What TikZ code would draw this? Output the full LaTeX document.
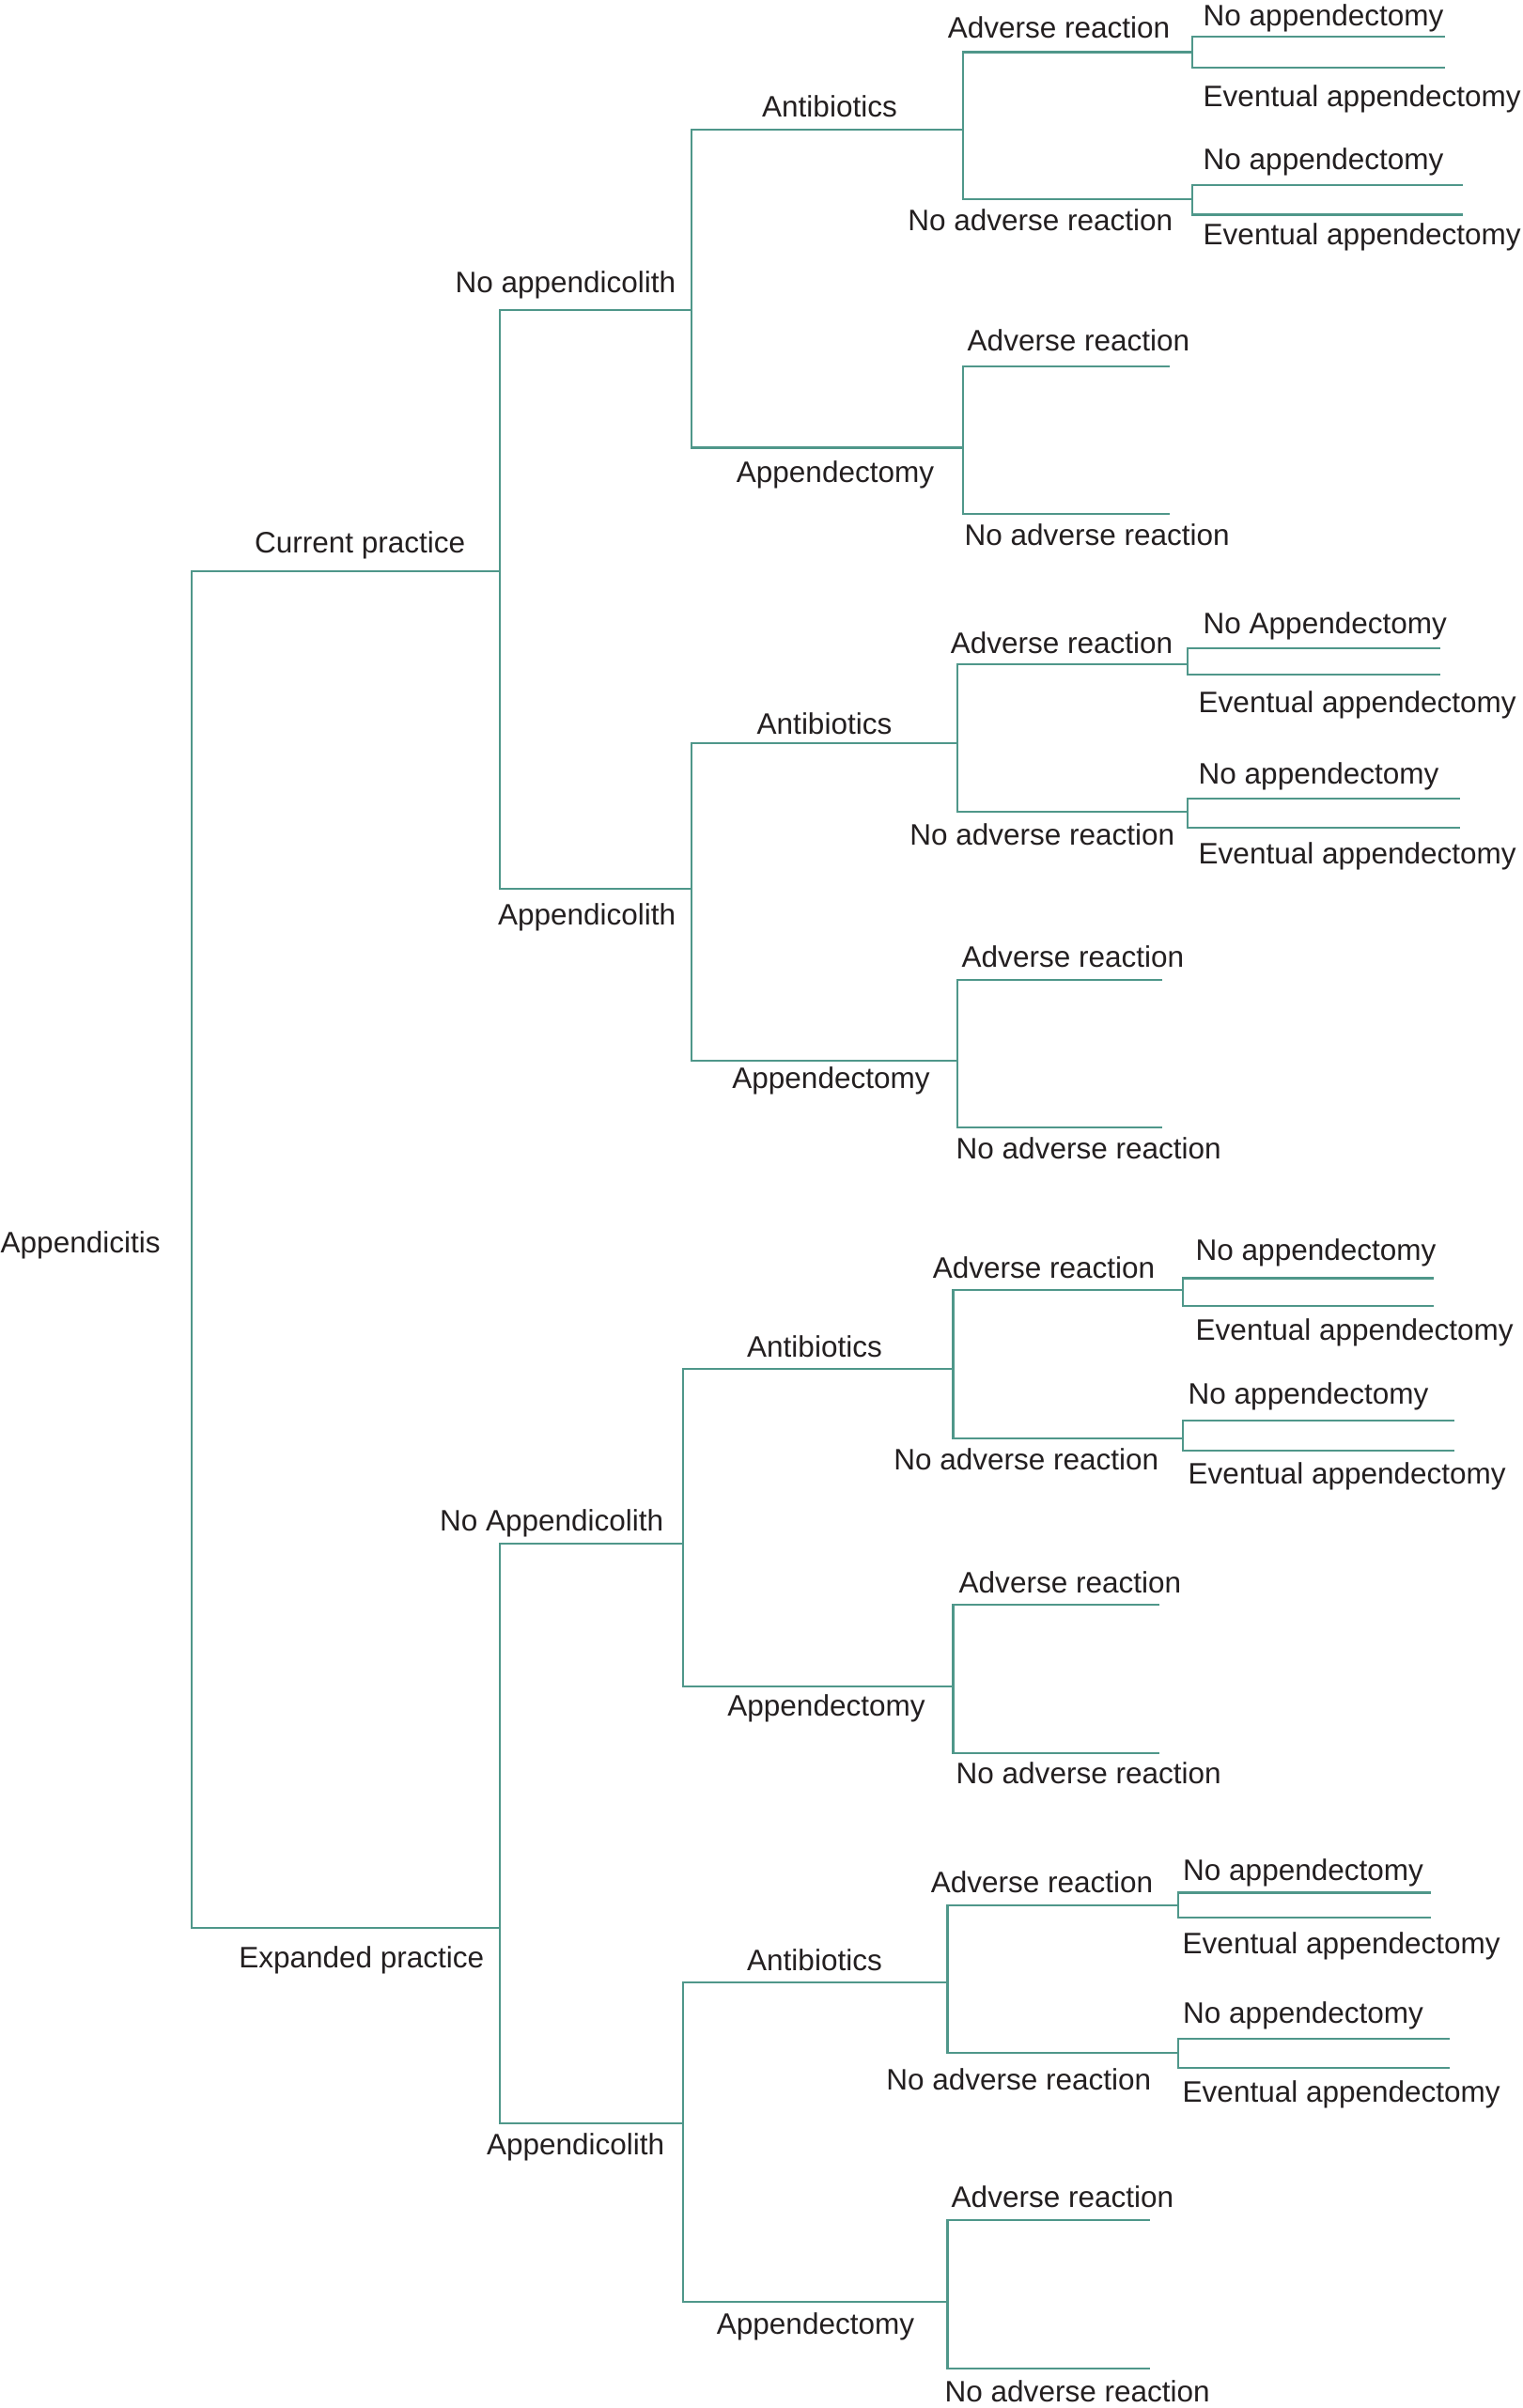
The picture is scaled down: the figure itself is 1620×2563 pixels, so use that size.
\documentclass[tikz,border=0pt]{standalone}
\usepackage{fontspec}
\setmainfont{Liberation Sans}
\definecolor{cTealD}{HTML}{4F978A}
\definecolor{cInkT}{HTML}{231F20}
\tikzset{
  branch/.style = {cTealD, line width=0.6pt},
  lbl/.style    = {text=cInkT, inner sep=0pt, font=\fontsize{8.96pt}{10pt}\selectfont},
  lblR/.style   = {lbl, anchor=base east},
  lblL/.style   = {lbl, anchor=base west},
  lblC/.style   = {lbl, anchor=base},
}

\begin{document}
\begin{tikzpicture}[x=0.01cm, y=-0.01cm]
  \useasboundingbox (0,0) rectangle (1620,2563);
  % branch ends (right end of each horizontal line)
  \coordinate (root) at (204,1330);
  \coordinate (cur)  at (532,608);
  \coordinate (exp)  at (532,2052);
  \coordinate (noA1) at (736,330);
  \coordinate (app1) at (736,946);
  \coordinate (noA2) at (727,1643);
  \coordinate (app2) at (727,2260);
  % group 1
  \coordinate (ab1)  at (1025,138);
  \coordinate (ap1)  at (1025,476.5);
  \coordinate (ad1)  at (1269,55.5);
  \coordinate (na1)  at (1269,212.4);
  \coordinate (adN1) at (1538,39);
  \coordinate (adE1) at (1538,72);
  \coordinate (naN1) at (1557,196.7);
  \coordinate (naE1) at (1557,228.5);
  \coordinate (pad1) at (1244.5,390);
  \coordinate (pna1) at (1244.5,547.3);
  % group 2
  \coordinate (ab2)  at (1018.6,790.6);
  \coordinate (ap2)  at (1018.6,1129);
  \coordinate (ad2)  at (1264,706.7);
  \coordinate (na2)  at (1264,864.3);
  \coordinate (adN2) at (1533,689.7);
  \coordinate (adE2) at (1533,718.3);
  \coordinate (naN2) at (1553.6,850);
  \coordinate (naE2) at (1553.6,881);
  \coordinate (pad2) at (1237,1043);
  \coordinate (pna2) at (1237,1200);
  % group 3
  \coordinate (ab3)  at (1014.5,1457.4);
  \coordinate (ap3)  at (1014.5,1795.4);
  \coordinate (ad3)  at (1259,1373);
  \coordinate (na3)  at (1259,1531);
  \coordinate (adN3) at (1526,1360.5);
  \coordinate (adE3) at (1526,1389.8);
  \coordinate (naN3) at (1548,1512.3);
  \coordinate (naE3) at (1548,1543.6);
  \coordinate (pad3) at (1234,1708);
  \coordinate (pna3) at (1234,1866);
  % group 4
  \coordinate (ab4)  at (1008.5,2110);
  \coordinate (ap4)  at (1008.5,2449.7);
  \coordinate (ad4)  at (1254,2027.8);
  \coordinate (na4)  at (1254,2185.4);
  \coordinate (adN4) at (1523,2014.5);
  \coordinate (adE4) at (1523,2040.7);
  \coordinate (naN4) at (1543,2169.7);
  \coordinate (naE4) at (1543,2201);
  \coordinate (pad4) at (1224,2363);
  \coordinate (pna4) at (1224,2521);

  % tree lines
  \draw[branch] (cur) -- (cur -| root) -- (exp -| root) -- (exp);
  \draw[branch] (noA1) -- (noA1 -| cur) -- (app1 -| cur) -- (app1);
  \draw[branch] (noA2) -- (noA2 -| exp) -- (app2 -| exp) -- (app2);
  \draw[branch] (ab1) -- (ab1 -| noA1) -- (ap1 -| noA1) -- (ap1);
  \draw[branch] (ab2) -- (ab2 -| app1) -- (ap2 -| app1) -- (ap2);
  \draw[branch] (ab3) -- (ab3 -| noA2) -- (ap3 -| noA2) -- (ap3);
  \draw[branch] (ab4) -- (ab4 -| app2) -- (ap4 -| app2) -- (ap4);
  \draw[branch] (ad1) -- (ad1 -| ab1) -- (na1 -| ab1) -- (na1);
  \draw[branch] (ad2) -- (ad2 -| ab2) -- (na2 -| ab2) -- (na2);
  \draw[branch] (ad3) -- (ad3 -| ab3) -- (na3 -| ab3) -- (na3);
  \draw[branch] (ad4) -- (ad4 -| ab4) -- (na4 -| ab4) -- (na4);
  \draw[branch] (pad1) -- (pad1 -| ap1) -- (pna1 -| ap1) -- (pna1);
  \draw[branch] (pad2) -- (pad2 -| ap2) -- (pna2 -| ap2) -- (pna2);
  \draw[branch] (pad3) -- (pad3 -| ap3) -- (pna3 -| ap3) -- (pna3);
  \draw[branch] (pad4) -- (pad4 -| ap4) -- (pna4 -| ap4) -- (pna4);
  \draw[branch] (adN1) -- (adN1 -| ad1) -- (adE1 -| ad1) -- (adE1);
  \draw[branch] (naN1) -- (naN1 -| na1) -- (naE1 -| na1) -- (naE1);
  \draw[branch] (adN2) -- (adN2 -| ad2) -- (adE2 -| ad2) -- (adE2);
  \draw[branch] (naN2) -- (naN2 -| na2) -- (naE2 -| na2) -- (naE2);
  \draw[branch] (adN3) -- (adN3 -| ad3) -- (adE3 -| ad3) -- (adE3);
  \draw[branch] (naN3) -- (naN3 -| na3) -- (naE3 -| na3) -- (naE3);
  \draw[branch] (adN4) -- (adN4 -| ad4) -- (adE4 -| ad4) -- (adE4);
  \draw[branch] (naN4) -- (naN4 -| na4) -- (naE4 -| na4) -- (naE4);

  % labels
  \node[lblL] (tRoot) at (0,1333) {Appendicitis};
  \node[lblR] (tCur)  at (496,588)  {Current practice};
  \node[lblR] (tExp)  at (516,2094) {Expanded practice};
  \node[lblR] (tNoA1) at (720,311)  {No appendicolith};
  \node[lblR] (tApp1) at (720,984)  {Appendicolith};
  \node[lblR] (tNoA2) at (707,1629) {No Appendicolith};
  \node[lblR] (tApp2) at (708,2293) {Appendicolith};
  % group 1
  \node[lblC] (tAb1)  at (883,124)   {Antibiotics};
  \node[lblC] (tAp1)  at (889,513)   {Appendectomy};
  \node[lblR] (tAd1)  at (1246,40)   {Adverse reaction};
  \node[lblR] (tNa1)  at (1249,245)  {No adverse reaction};
  \node[lblL] (tAdN1) at (1280,27)   {No appendectomy};
  \node[lblL] (tAdE1) at (1280,113)  {Eventual appendectomy};
  \node[lblL] (tNaN1) at (1280,180)  {No appendectomy};
  \node[lblL] (tNaE1) at (1280,260)  {Eventual appendectomy};
  \node[lblL] (tPad1) at (1029,373)  {Adverse reaction};
  \node[lblL] (tPna1) at (1026,580)  {No adverse reaction};
  % group 2
  \node[lblC] (tAb2)  at (877.5,781) {Antibiotics};
  \node[lblC] (tAp2)  at (884.5,1158) {Appendectomy};
  \node[lblR] (tAd2)  at (1249,695)  {Adverse reaction};
  \node[lblR] (tNa2)  at (1251,899)  {No adverse reaction};
  \node[lblL] (tAdN2) at (1280,674)  {No Appendectomy};
  \node[lblL] (tAdE2) at (1275,758)  {Eventual appendectomy};
  \node[lblL] (tNaN2) at (1275,834)  {No appendectomy};
  \node[lblL] (tNaE2) at (1275,919)  {Eventual appendectomy};
  \node[lblL] (tPad2) at (1023,1029) {Adverse reaction};
  \node[lblL] (tPna2) at (1017,1233) {No adverse reaction};
  % group 3
  \node[lblC] (tAb3)  at (867,1444)  {Antibiotics};
  \node[lblC] (tAp3)  at (879.5,1826) {Appendectomy};
  \node[lblR] (tAd3)  at (1230,1360) {Adverse reaction};
  \node[lblR] (tNa3)  at (1234,1564) {No adverse reaction};
  \node[lblL] (tAdN3) at (1272,1341.5) {No appendectomy};
  \node[lblL] (tAdE3) at (1272,1426) {Eventual appendectomy};
  \node[lblL] (tNaN3) at (1264,1494) {No appendectomy};
  \node[lblL] (tNaE3) at (1264,1579) {Eventual appendectomy};
  \node[lblL] (tPad3) at (1020,1695) {Adverse reaction};
  \node[lblL] (tPna3) at (1017,1898) {No adverse reaction};
  % group 4
  \node[lblC] (tAb4)  at (867,2097)  {Antibiotics};
  \node[lblC] (tAp4)  at (868,2484)  {Appendectomy};
  \node[lblR] (tAd4)  at (1228,2014.5) {Adverse reaction};
  \node[lblR] (tNa4)  at (1226,2224) {No adverse reaction};
  \node[lblL] (tAdN4) at (1258.5,2001) {No appendectomy};
  \node[lblL] (tAdE4) at (1258,2079) {Eventual appendectomy};
  \node[lblL] (tNaN4) at (1258.5,2153) {No appendectomy};
  \node[lblL] (tNaE4) at (1258,2237) {Eventual appendectomy};
  \node[lblL] (tPad4) at (1012,2349) {Adverse reaction};
  \node[lblL] (tPna4) at (1005,2556) {No adverse reaction};
\end{tikzpicture}
\end{document}
